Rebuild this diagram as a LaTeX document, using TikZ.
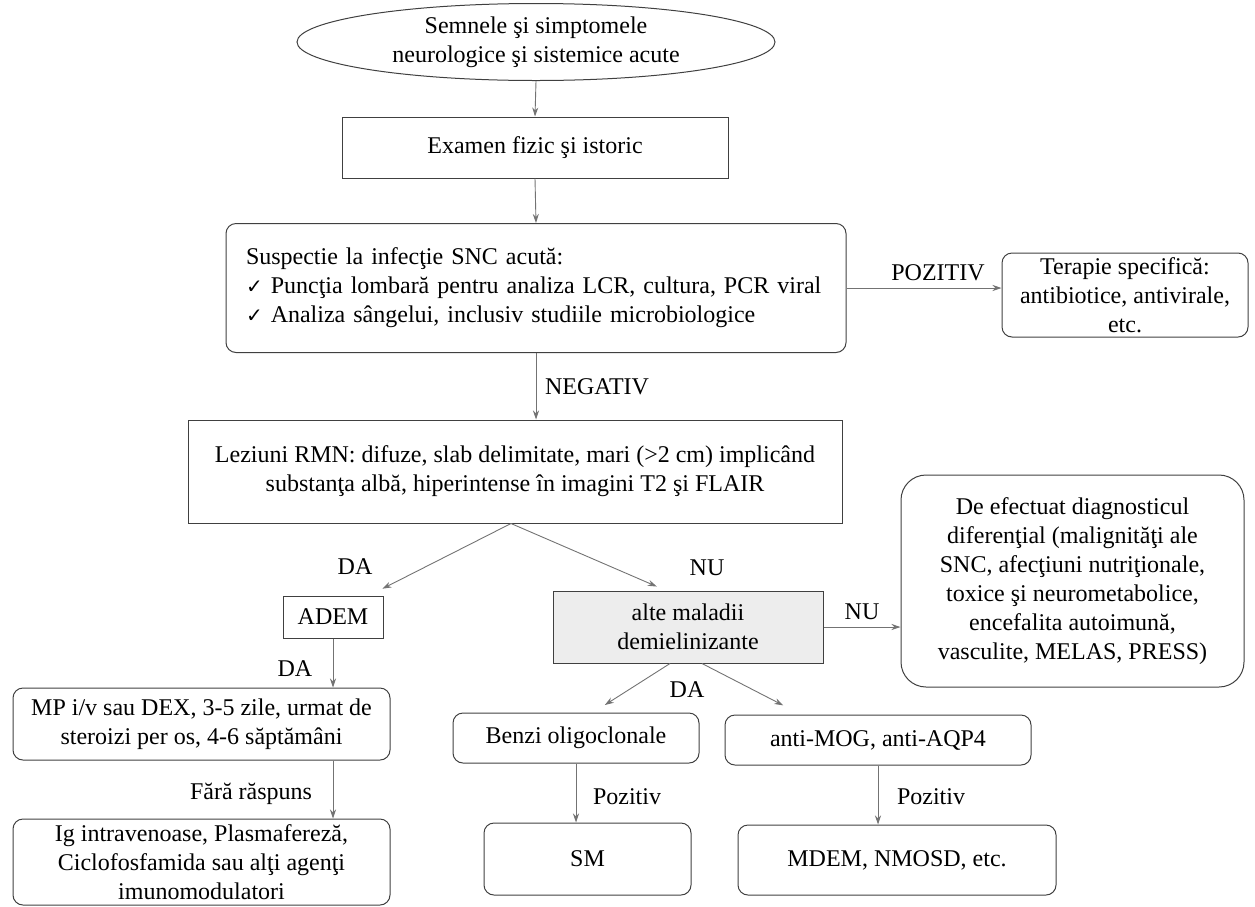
\documentclass[tikz,border=0pt]{standalone}
\usepackage{fontspec}
\setmainfont{Liberation Serif}
\newfontfamily\symfont{DejaVu Sans}
\usetikzlibrary{shapes.geometric,arrows.meta}

\definecolor{linegray}{rgb}{0.25, 0.25, 0.25}
\definecolor{arrowgray}{rgb}{0.45, 0.45, 0.45}
\definecolor{boxfill}{rgb}{0.93, 0.93, 0.93}

\newcommand{\bifa}{{\symfont\fontsize{20}{24}\selectfont ✓}}

\begin{document}
\begin{tikzpicture}[x=1pt,y=1pt,yscale=-1,xscale=1,
		every node/.style={font=\fontsize{24}{29}\selectfont},
		box/.style={draw=linegray, line width=1pt, inner sep=0pt, align=center},
		rbox/.style={box, rounded corners=10pt},
		arr/.style={draw=arrowgray, line width=0.9pt, -{Stealth[length=9pt,width=6pt]}},
		lbl/.style={inner sep=1pt}]
		% Set diagram size to the reference: 1255 x 906
		\useasboundingbox (0,0) rectangle (1255,906);

		% Start ellipse
		\node (semne) [box, ellipse, minimum width=478pt, minimum height=77pt] at (536,42) {Semnele şi simptomele\\neurologice şi sistemice acute};

		% Physical examination
		\node (examen) [box, minimum width=386pt, minimum height=61pt] at (535,147.5) {Examen fizic şi istoric};

		% Suspected infection
		\node (susp) [rbox, minimum width=620pt, minimum height=129pt, text width=580pt, align=left] at (536,288) {Suspectie la infecţie SNC acută:\\\bifa\ Puncţia lombară pentru analiza LCR, cultura, PCR viral\\\bifa\ Analiza sângelui, inclusiv studiile microbiologice};

		% Specific therapy
		\node (terapie) [rbox, minimum width=246pt, minimum height=84pt] at (1125,295) {Terapie specifică:\\antibiotice, antivirale,\\etc.};

		% MRI lesions
		\node (leziuni) [box, minimum width=654pt, minimum height=103pt] at (515,471.5) {Leziuni RMN: difuze, slab delimitate, mari (>2 cm) implicând\\substanţa albă, hiperintense în imagini T2 şi FLAIR};

		% Left branch
		\node (adem) [box, minimum width=100pt, minimum height=42pt] at (333,617) {ADEM};
		\node (steroizi) [rbox, minimum width=377pt, minimum height=72pt] at (201.5,724) {MP i/v sau DEX, 3-5 zile, urmat de\\steroizi per os, 4-6 săptămâni};
		\node (imuno) [rbox, minimum width=377pt, minimum height=86pt] at (201.5,862) {Ig intravenoase, Plasmafereză,\\Ciclofosfamida sau alţi agenţi\\imunomodulatori};

		% Right branch
		\node (alte) [box, fill=boxfill, minimum width=270pt, minimum height=72pt] at (688,627) {alte maladii\\demielinizante};
		\node (diferential) [box, rounded corners=25pt, minimum width=343pt, minimum height=212pt] at (1072.5,581) {De efectuat diagnosticul\\diferenţial (malignităţi ale\\SNC, afecţiuni nutriţionale,\\toxice şi neurometabolice,\\encefalita autoimună,\\vasculite, MELAS, PRESS)};
		\node (benzi) [rbox, minimum width=246pt, minimum height=50pt] at (576,738) {Benzi oligoclonale};
		\node (antimog) [rbox, minimum width=306pt, minimum height=50pt] at (878,740) {anti-MOG, anti-AQP4};
		\node (sm) [rbox, minimum width=207pt, minimum height=72pt] at (587.5,859) {SM};
		\node (mdem) [rbox, minimum width=318pt, minimum height=70pt] at (897,860) {MDEM, NMOSD, etc.};

		% Labels on the connectors
		\node (lpozitiv) [lbl] at (938,273) {POZITIV};
		\node (lnegativ) [lbl] at (597,387) {NEGATIV};
		\node (ldaadem) [lbl] at (355,567) {DA};
		\node (lnualte) [lbl] at (707,568) {NU};
		\node (ldamp) [lbl] at (295,669) {DA};
		\node (lfara) [lbl] at (251,794) {Fără răspuns};
		\node (lnudif) [lbl] at (862,612) {NU};
		\node (ldaalte) [lbl] at (687,690) {DA};
		\node (lpozsm) [lbl] at (627,797) {Pozitiv};
		\node (lpozmdem) [lbl] at (931,797) {Pozitiv};

		% Connectors
		\draw[arr] (semne.south) -- (examen.north);
		\draw[arr] (examen.south) -- (susp.north);
		\draw[arr] (susp.east) -- (susp.east -| terapie.west);
		\draw[arr] (susp.south) -- (susp.south |- leziuni.north);
		\draw[arr, shorten >=15pt] ([xshift=-4pt]leziuni.south) -- ([xshift=36pt]adem.north);
		\draw[arr, shorten >=10pt] ([xshift=-4pt]leziuni.south) -- ([xshift=-22pt]alte.north);
		\draw[arr] (adem.south) -- (adem.south |- steroizi.north);
		\draw[arr] (adem.south |- steroizi.south) -- (adem.south |- imuno.north);
		\draw[arr] (alte.east) -- (alte.east -| diferential.west);
		\draw[arr, shorten >=14pt] ([xshift=-18pt]alte.south) -- ([xshift=17pt]benzi.north);
		\draw[arr, shorten >=20pt] ([xshift=14pt]alte.south) -- ([xshift=-77pt]antimog.north);
		\draw[arr] (benzi.south) -- (benzi.south |- sm.north);
		\draw[arr] (antimog.south) -- (antimog.south |- mdem.north);
	\end{tikzpicture}
\end{document}
